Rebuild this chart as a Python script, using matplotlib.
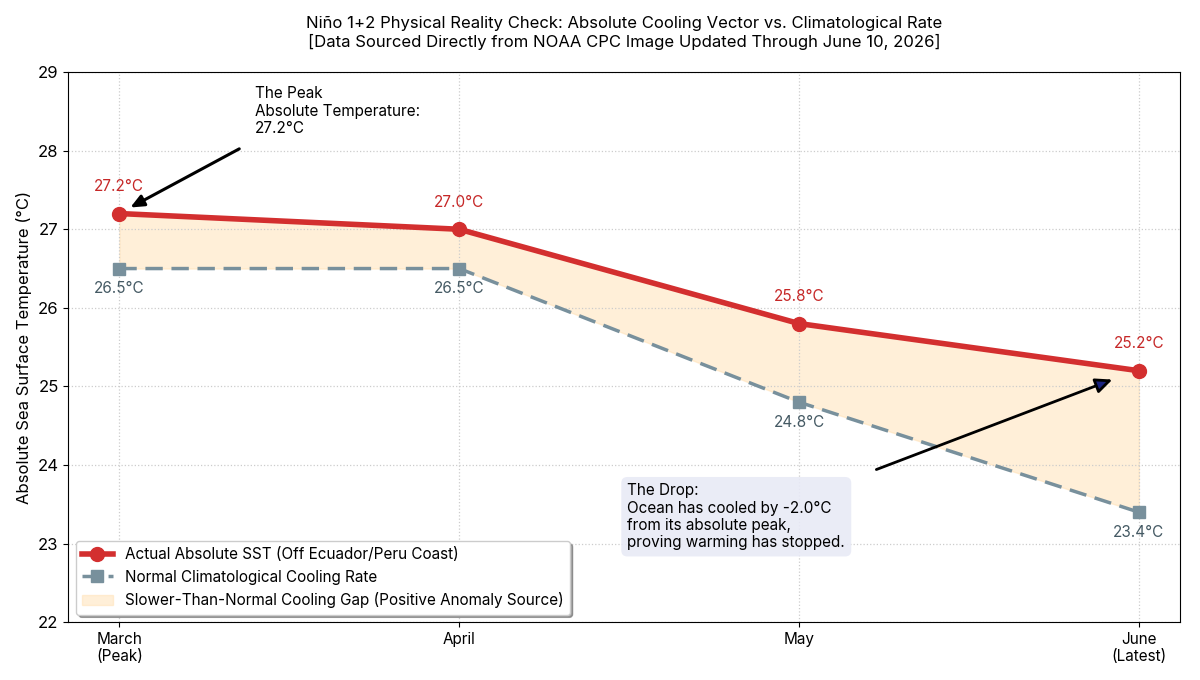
import matplotlib.pyplot as plt

plt.rcParams['font.family'] = ['Inter', 'DejaVu Sans']

months = ["March\n(Peak)", "April", "May", "June\n(Latest)"]
actual_sst = [27.2, 27.0, 25.8, 25.2]
normal_sst = [26.5, 26.5, 24.8, 23.4]
y_ticks = [22, 23, 24, 25, 26, 27, 28, 29]

x = list(range(len(months)))

fig, ax = plt.subplots(figsize=(12, 6.8), dpi=100)
fig.subplots_adjust(left=0.057, right=0.983, top=0.894, bottom=0.085)

ax.plot(x, actual_sst, color="#D32F2F", lw=4, marker="o", ms=10,
        label="Actual Absolute SST (Off Ecuador/Peru Coast)", zorder=4)
ax.plot(x, normal_sst, color="#78909C", lw=2.5, ls="--", dashes=(5, 2.5),
        marker="s", ms=8, label="Normal Climatological Cooling Rate", zorder=3)
ax.fill_between(x, actual_sst, normal_sst, color="#FFE0B2", alpha=0.5,
                label="Slower-Than-Normal Cooling Gap (Positive Anomaly Source)")

for xi, v in zip(x, actual_sst):
    ax.annotate(f"{v:.1f}°C", (xi, v), xytext=(0, 14), textcoords="offset points",
                ha="center", va="bottom", color="#C62828", fontsize=11)
for xi, v in zip(x, normal_sst):
    ax.annotate(f"{v:.1f}°C", (xi, v), xytext=(0, -9), textcoords="offset points",
                ha="center", va="top", color="#455A64", fontsize=11)

# peak annotation
ax.text(0.4, 28.82, "The Peak\nAbsolute Temperature:\n27.2°C", fontsize=11,
        va="top", ha="left")
ax.annotate("", xy=(0.025, 27.26), xytext=(0.36, 28.04),
            arrowprops=dict(arrowstyle="-|>,head_width=0.35,head_length=0.8",
                            color="black", lw=2.2))

# drop annotation
ax.text(1.495, 23.77,
        "The Drop:\nOcean has cooled by -2.0°C\nfrom its absolute peak,\nproving warming has stopped.",
        fontsize=11, va="top", ha="left",
        bbox=dict(boxstyle="round,pad=0.4", fc="#E8EAF6", ec="none", alpha=0.9))
ax.annotate("", xy=(2.93, 25.1), xytext=(2.22, 23.93),
            arrowprops=dict(arrowstyle="-|>,head_width=0.45,head_length=1.0",
                            fc="#1A237E", ec="black", lw=2.0))

ax.set_xticks(x)
ax.set_xticklabels(months, fontsize=11)
ax.set_yticks(y_ticks)
ax.tick_params(axis="y", labelsize=12)
ax.set_xlim(-0.15, 3.12)
ax.set_ylim(22, 29)
ax.set_ylabel("Absolute Sea Surface Temperature (°C)", fontsize=12)
ax.grid(True, ls=":", color="#cccccc", lw=0.9)

ax.set_title("Niño 1+2 Physical Reality Check: Absolute Cooling Vector vs. Climatological Rate\n"
             "[Data Sourced Directly from NOAA CPC Image Updated Through June 10, 2026]",
             fontsize=12, pad=18)

ax.legend(loc="lower left", fontsize=11, shadow=True, fancybox=True, framealpha=1)

plt.savefig("out.png")
